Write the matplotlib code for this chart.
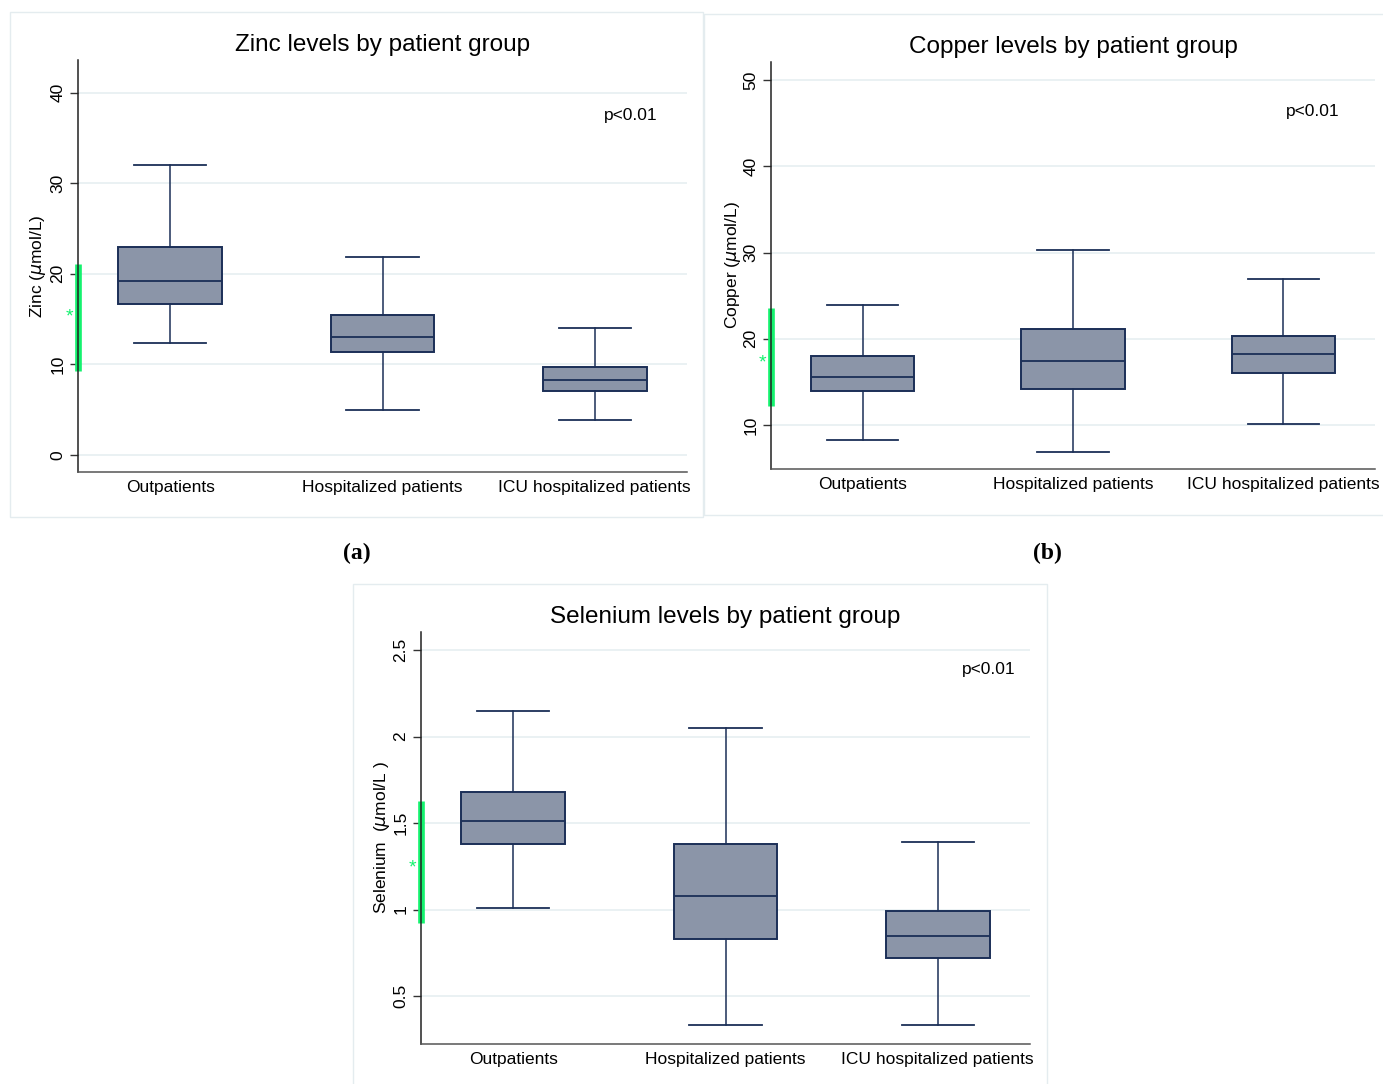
import matplotlib
matplotlib.use("Agg")
import matplotlib.pyplot as plt
from matplotlib.patches import Rectangle

plt.rcParams["font.family"] = ["Liberation Sans", "DejaVu Sans"]

W, H = 1383, 1084

# categories
groups = ["Outpatients", "Hospitalized patients", "ICU hospitalized patients"]

# Zinc (umol/L): whisker low, Q1, median, Q3, whisker high
zinc_whislo = [12.4, 5.0, 3.8]
zinc_q1 = [16.7, 11.3, 7.1]
zinc_med = [19.2, 13.0, 8.3]
zinc_q3 = [22.9, 15.4, 9.7]
zinc_whishi = [32.0, 21.8, 14.0]
zinc_ref = [9.2, 21.1]
zinc_star = 15.3

# Copper (umol/L)
copper_whislo = [8.3, 6.9, 10.1]
copper_q1 = [13.9, 14.2, 16.0]
copper_med = [15.6, 17.4, 18.2]
copper_q3 = [18.0, 21.1, 20.3]
copper_whishi = [23.9, 30.3, 26.9]
copper_ref = [12.2, 23.6]
copper_star = 17.3

# Selenium (umol/L)
selen_whislo = [1.01, 0.33, 0.33]
selen_q1 = [1.38, 0.83, 0.72]
selen_med = [1.51, 1.08, 0.85]
selen_q3 = [1.68, 1.38, 0.99]
selen_whishi = [2.15, 2.05, 1.39]
selen_ref = [0.92, 1.626]
selen_star = 1.248

p_text = "p<0.01"

BOX_FILL = "#8b95a8"
BOX_EDGE = "#1b2f57"
GRID = "#e6eff1"
GREEN = "#14f26e"
FRAME = "#e4ecef"


def px_axes(fig, left, top, right, bottom):
    return fig.add_axes([left / W, 1 - bottom / H, (right - left) / W, (bottom - top) / H])


def draw_panel(fig, rect, title, ylabel, lo, q1, med, q3, hi, ylim, yticks, ytick_labels,
               ref, star, p_xy, frame, ylabel_x):
    ax = px_axes(fig, *rect)
    stats = []
    for i, g in enumerate(groups):
        stats.append({"label": g, "whislo": lo[i], "q1": q1[i], "med": med[i],
                      "q3": q3[i], "whishi": hi[i], "fliers": []})
    ax.bxp(stats, positions=[1, 2, 3], widths=0.49, patch_artist=True, showfliers=False,
           boxprops=dict(facecolor=BOX_FILL, edgecolor=BOX_EDGE, linewidth=1.4),
           medianprops=dict(color=BOX_EDGE, linewidth=1.3),
           whiskerprops=dict(color=BOX_EDGE, linewidth=1.1),
           capprops=dict(color=BOX_EDGE, linewidth=1.3),
           capwidths=0.34, zorder=3)
    ax.set_xlim(0.565, 3.435)
    ax.set_ylim(*ylim)
    ax.set_yticks(yticks)
    ax.set_yticklabels(ytick_labels, rotation=90, va="center", fontsize=12.5)
    ax.tick_params(axis="y", length=6, width=1, color="#333333", pad=3)
    ax.tick_params(axis="x", length=0, pad=6, labelsize=12.5)
    ax.grid(axis="y", color=GRID, linewidth=1.2, zorder=0)
    ax.set_axisbelow(True)
    for s in ["top", "right"]:
        ax.spines[s].set_visible(False)
    ax.spines["left"].set_color("#222222")
    ax.spines["bottom"].set_color("#555555")
    ax.spines["left"].set_linewidth(1.1)
    ax.spines["bottom"].set_linewidth(1.1)

    # reference range bar and marker
    ytr = ax.get_yaxis_transform()
    ax.plot([0, 0], ref, color=GREEN, linewidth=4.8, transform=ytr, clip_on=False,
            zorder=1.5, solid_capstyle="butt")
    ax.annotate("*", xy=(0, star), xycoords=ytr, xytext=(-9, -1), textcoords="offset pixels",
                ha="center", va="center", color=GREEN, fontsize=14)

    ax.text(p_xy[0], p_xy[1], p_text, ha="center", va="center", fontsize=12.5)

    cx = (rect[0] + rect[2]) / 2
    fig.text(cx / W, 1 - (rect[1] - 15) / H, title, ha="center", va="center", fontsize=17.5)
    fig.text(ylabel_x / W, 1 - ((rect[1] + rect[3]) / 2) / H,
             ylabel, rotation=90, ha="center", va="center", fontsize=12.5)

    fl, ft, fr, fb = frame
    fig.patches.append(Rectangle((fl / W, 1 - fb / H), (fr - fl) / W, (fb - ft) / H,
                                 transform=fig.transFigure, fill=False,
                                 edgecolor=FRAME, linewidth=1.0))
    return ax


fig = plt.figure(figsize=(W / 100, H / 100), dpi=100)
fig.patch.set_facecolor("white")

draw_panel(fig, (78, 60, 687, 472), "Zinc levels by patient group", r"Zinc ($\mu$mol/L)",
           zinc_whislo, zinc_q1, zinc_med, zinc_q3, zinc_whishi,
           (-1.9, 43.6), [0, 10, 20, 30, 40], ["0", "10", "20", "30", "40"],
           zinc_ref, zinc_star, (3.17, 37.5), (10, 12, 703, 517), 38)

draw_panel(fig, (771, 62, 1375, 469), "Copper levels by patient group", r"Copper ($\mu$mol/L)",
           copper_whislo, copper_q1, copper_med, copper_q3, copper_whishi,
           (4.9, 52.1), [10, 20, 30, 40, 50], ["10", "20", "30", "40", "50"],
           copper_ref, copper_star, (3.14, 46.4), (704, 14, 1390, 515), 733)

draw_panel(fig, (421, 632, 1030, 1044), "Selenium levels by patient group",
           r"Selenium  ($\mu$mol/L )",
           selen_whislo, selen_q1, selen_med, selen_q3, selen_whishi,
           (0.223, 2.604), [0.5, 1, 1.5, 2, 2.5], ["0.5", "1", "1.5", "2", "2.5"],
           selen_ref, selen_star, (3.24, 2.387), (353, 584, 1047, 1090), 382)

fig.text(357 / W, 1 - 553 / H, "(a)", ha="center", va="center", fontsize=17,
         family="Liberation Serif", fontweight="bold")
fig.text(1047 / W, 1 - 553 / H, "(b)", ha="center", va="center", fontsize=17,
         family="Liberation Serif", fontweight="bold")

fig.savefig("out.png", dpi=100)
